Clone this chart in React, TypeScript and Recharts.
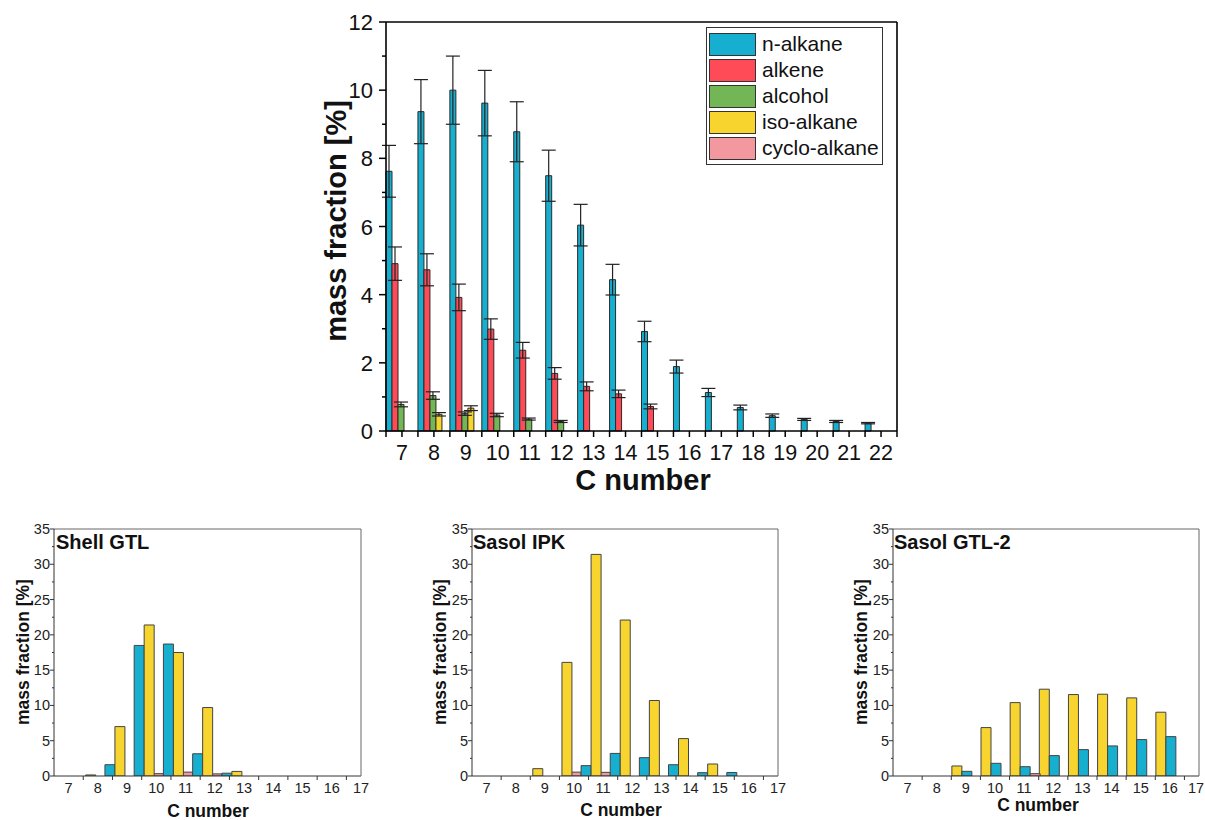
import React from 'react';
import { BarChart, Bar, XAxis, YAxis, ErrorBar, Legend } from 'recharts';

const FONT = '"Liberation Sans", Arial, Helvetica, sans-serif';

// ---------- main chart data (C7 .. C22) ----------
const carbonNumbers = [7, 8, 9, 10, 11, 12, 13, 14, 15, 16, 17, 18, 19, 20, 21, 22];
const nAlkane = [7.62, 9.37, 10.0, 9.62, 8.78, 7.49, 6.04, 4.44, 2.92, 1.89, 1.13, 0.69, 0.45, 0.34, 0.28, 0.23];
const nAlkaneErr = [0.76, 0.94, 1.0, 0.96, 0.88, 0.75, 0.61, 0.45, 0.3, 0.19, 0.12, 0.07, 0.05, 0.03, 0.03, 0.02];
const alkene = [4.91, 4.73, 3.92, 2.99, 2.37, 1.69, 1.31, 1.09, 0.72, null, null, null, null, null, null, null];
const alkeneErr = [0.49, 0.47, 0.39, 0.3, 0.23, 0.17, 0.13, 0.11, 0.07, null, null, null, null, null, null, null];
const alcohol = [0.78, 1.04, 0.51, 0.47, 0.35, 0.28, null, null, null, null, null, null, null, null, null, null];
const alcoholErr = [0.07, 0.11, 0.05, 0.05, 0.03, 0.03, null, null, null, null, null, null, null, null, null, null];
const isoAlkane = [null, 0.49, 0.67, null, null, null, null, null, null, null, null, null, null, null, null, null];
const isoAlkaneErr = [null, 0.05, 0.07, null, null, null, null, null, null, null, null, null, null, null, null, null];
const cycloAlkane = [null, null, null, null, null, null, null, null, null, null, null, null, null, null, null, null];

const legendOrder = ['n-alkane', 'alkene', 'alcohol', 'iso-alkane', 'cyclo-alkane'];
const mainYLabels = [0, 2, 4, 6, 8, 10, 12];
const mainYMinor = [1, 3, 5, 7, 9, 11];

// ---------- bottom charts data (C7 .. C16) ----------
const fuelCarbon = [7, 8, 9, 10, 11, 12, 13, 14, 15, 16];
const shellN = [0, 1.6, 18.5, 18.7, 3.15, 0.4, 0, 0, 0, 0];
const shellIso = [0.15, 7.0, 21.4, 17.5, 9.7, 0.65, 0, 0, 0, 0];
const shellCyclo = [0, 0, 0, 0.33, 0.55, 0.3, 0, 0, 0, 0];
const ipkN = [0, 0, 0, 1.47, 3.2, 2.6, 1.6, 0.47, 0.5, 0];
const ipkIso = [0, 1.04, 16.1, 31.4, 22.1, 10.7, 5.3, 1.7, 0, 0];
const ipkCyclo = [0, 0, 0, 0.55, 0.52, 0, 0, 0, 0, 0];
const gtl2N = [0, 0, 0.66, 1.8, 1.32, 2.89, 3.74, 4.26, 5.16, 5.58];
const gtl2Iso = [0, 0, 1.42, 6.86, 10.4, 12.3, 11.54, 11.59, 11.07, 9.04];
const gtl2Cyclo = [0, 0, 0, 0, 0.33, 0, 0, 0, 0, 0];

const fuelXLabels = [7, 8, 9, 10, 11, 12, 13, 14, 15, 16, 17];
const fuelXMinor = [7.5, 8.5, 9.5, 10.5, 11.5, 12.5, 13.5, 14.5, 15.5, 16.5];
const fuelYLabels = [0, 5, 10, 15, 20, 25, 30, 35];
const fuelYMinor = [2.5, 7.5, 12.5, 17.5, 22.5, 27.5, 32.5];

const COLORS = {
  n: '#17AFCF',
  alkene: '#FF4A57',
  alcohol: '#73B655',
  iso: '#F8D42E',
  cyclo: '#F4989F',
};
const OUTLINE = '#2a2a2a';

const mainData = carbonNumbers.map((c, i) => ({
  c,
  nAlkane: nAlkane[i],
  nAlkaneErr: nAlkaneErr[i],
  alkene: alkene[i],
  alkeneErr: alkeneErr[i],
  alcohol: alcohol[i],
  alcoholErr: alcoholErr[i],
  iso: isoAlkane[i],
  isoErr: isoAlkaneErr[i],
  cyclo: cycloAlkane[i],
}));

const sortNum = (a: number[]) => [...a].sort((x, y) => x - y);

// ---------- tick renderers ----------
const MainXTick = (props: any) => {
  const { x, y, payload, index, visibleTicksCount } = props;
  const half = payload && payload.offset ? payload.offset : 16;
  const last = index === visibleTicksCount - 1;
  return (
    <g>
      <line x1={x} x2={x} y1={y} y2={y + 6} stroke="#000" strokeWidth={1.5} />
      <line x1={x - half} x2={x - half} y1={y} y2={y + 6} stroke="#000" strokeWidth={1.5} />
      {last && <line x1={x + half} x2={x + half} y1={y} y2={y + 6} stroke="#000" strokeWidth={1.5} />}
      <text x={x} y={y + 29} textAnchor="middle" fontSize={21.5} fill="#111" fontFamily={FONT}>
        {payload.value}
      </text>
    </g>
  );
};

const MainYTick = (props: any) => {
  const { x, y, payload } = props;
  const major = mainYLabels.includes(payload.value);
  return (
    <g>
      <line x1={x - (major ? 7 : 4)} x2={x} y1={y} y2={y} stroke="#000" strokeWidth={1.5} />
      {major && (
        <text x={x - 13} y={y + 8} textAnchor="end" fontSize={22} fill="#111" fontFamily={FONT}>
          {payload.value}
        </text>
      )}
    </g>
  );
};

const FuelXTick = (props: any) => {
  const { x, y, payload, maxX } = props;
  const major = fuelXLabels.includes(payload.value);
  if (!major) {
    return <line x1={x} x2={x} y1={y} y2={y + 4} stroke="#333" strokeWidth={1} />;
  }
  const lx = maxX != null && x + 9 > maxX ? maxX - 9 : x;
  return (
    <text x={lx} y={y + 17} textAnchor="middle" fontSize={14.5} fill="#222" fontFamily={FONT}>
      {payload.value}
    </text>
  );
};

const FuelYTick = (props: any) => {
  const { x, y, payload } = props;
  const major = fuelYLabels.includes(payload.value);
  return (
    <g>
      <line x1={x - (major ? 4 : 2)} x2={x} y1={y} y2={y} stroke="#333" strokeWidth={1} />
      {major && (
        <text x={x - 4} y={y + 5} textAnchor="end" fontSize={14.5} fill="#222" fontFamily={FONT}>
          {payload.value}
        </text>
      )}
    </g>
  );
};

const renderLegend = (props: any) => {
  const items = [...(props.payload || [])].sort(
    (a: any, b: any) => legendOrder.indexOf(a.value) - legendOrder.indexOf(b.value)
  );
  return (
    <div
      style={{
        border: '1px solid #333',
        background: '#fff',
        padding: '3px 4px 3px 2px',
        width: 177,
        boxSizing: 'border-box',
        fontFamily: FONT,
      }}
    >
      {items.map((p: any) => (
        <div key={p.value} style={{ display: 'flex', alignItems: 'center', height: 26, whiteSpace: 'nowrap' }}>
          <div
            style={{
              width: 47,
              height: 23,
              flex: '0 0 47px',
              background: p.color,
              border: '1px solid #333',
              boxSizing: 'border-box',
            }}
          />
          <span style={{ marginLeft: 6, fontSize: 21, color: '#111', lineHeight: '26px', whiteSpace: 'nowrap' }}>
            {p.value}
          </span>
        </div>
      ))}
    </div>
  );
};

// ---------- bottom chart ----------
type SeriesKey = 'n' | 'iso' | 'cyclo';
const seriesName: Record<SeriesKey, string> = { n: 'n-alkane', iso: 'iso-alkane', cyclo: 'cyclo-alkane' };

function FuelChart(props: {
  n: number[];
  iso: number[];
  cyclo: number[];
  order: SeriesKey[];
  shift: number;
  left: number;
  width: number;
  margin: { top: number; right: number; bottom: number; left: number };
}) {
  const { n, iso, cyclo, order, shift, left, width, margin } = props;
  const data = fuelCarbon.map((c, i) => ({ c, n: n[i], iso: iso[i], cyclo: cyclo[i] }));
  const axisStroke = { stroke: '#333', strokeWidth: 1 };
  const frameStroke = { stroke: '#666', strokeWidth: 1 };
  return (
    <div style={{ position: 'absolute', left, top: 500 }}>
      <BarChart width={width} height={320} data={data} margin={margin} barCategoryGap={0} barGap={0}>
        <XAxis
          type="number"
          dataKey={(d: any) => d.c + shift}
          domain={[6.5, 17]}
          ticks={sortNum([...fuelXLabels, ...fuelXMinor])}
          interval={0}
          height={1}
          tickSize={0}
          tickMargin={0}
          tickLine={false}
          axisLine={axisStroke}
          tick={(p: any) => <FuelXTick {...p} maxX={width} />}
          allowDataOverflow
        />
        <XAxis
          xAxisId="top"
          orientation="top"
          type="number"
          dataKey="c"
          domain={[6.5, 17]}
          height={1}
          tick={false}
          tickLine={false}
          axisLine={frameStroke}
          allowDataOverflow
        />
        <YAxis
          type="number"
          domain={[0, 35]}
          ticks={sortNum([...fuelYLabels, ...fuelYMinor])}
          interval={0}
          width={1}
          tickSize={0}
          tickMargin={0}
          tickLine={false}
          axisLine={axisStroke}
          tick={(p: any) => <FuelYTick {...p} />}
          allowDataOverflow
        />
        <YAxis
          yAxisId="right"
          orientation="right"
          type="number"
          domain={[0, 35]}
          width={1}
          tick={false}
          tickLine={false}
          axisLine={frameStroke}
        />
        {order.map((k) => (
          <Bar
            key={k}
            dataKey={k}
            name={seriesName[k]}
            fill={COLORS[k]}
            stroke="#444"
            strokeWidth={1}
            isAnimationActive={false}
          />
        ))}
      </BarChart>
    </div>
  );
}

export default function App() {
  const axisStroke = { stroke: '#000', strokeWidth: 1.6 };
  return (
    <div
      style={{
        position: 'absolute',
        left: 0,
        top: 0,
        width: 1205,
        height: 820,
        overflow: 'hidden',
        background: '#fff',
        fontFamily: FONT,
      }}
    >
      <div style={{ position: 'absolute', left: 0, top: 0 }}>
        <BarChart
          width={1205}
          height={500}
          data={mainData}
          margin={{ top: 21, right: 307, bottom: 68, left: 385 }}
          barCategoryGap={0}
          barGap={0}
        >
          <XAxis
            dataKey="c"
            type="category"
            height={1}
            interval={0}
            tickSize={0}
            tickMargin={0}
            tickLine={false}
            axisLine={axisStroke}
            tick={(p: any) => <MainXTick {...p} />}
          />
          <XAxis
            xAxisId="top"
            orientation="top"
            dataKey="c"
            type="category"
            height={1}
            tick={false}
            tickLine={false}
            axisLine={axisStroke}
          />
          <YAxis
            type="number"
            domain={[0, 12]}
            ticks={sortNum([...mainYLabels, ...mainYMinor])}
            interval={0}
            width={1}
            tickSize={0}
            tickMargin={0}
            tickLine={false}
            axisLine={axisStroke}
            tick={(p: any) => <MainYTick {...p} />}
          />
          <YAxis
            yAxisId="right"
            orientation="right"
            type="number"
            domain={[0, 12]}
            width={1}
            tick={false}
            tickLine={false}
            axisLine={axisStroke}
          />
          <Legend
            layout="vertical"
            align="center"
            verticalAlign="middle"
            wrapperStyle={{ left: 706, top: 27, width: 177, height: 'auto' }}
            content={renderLegend}
          />
          <Bar dataKey="nAlkane" name="n-alkane" fill={COLORS.n} stroke={OUTLINE} strokeWidth={1} isAnimationActive={false}>
            <ErrorBar dataKey="nAlkaneErr" width={7} stroke="#222" strokeWidth={1.2} />
          </Bar>
          <Bar dataKey="alkene" name="alkene" fill={COLORS.alkene} stroke={OUTLINE} strokeWidth={1} isAnimationActive={false}>
            <ErrorBar dataKey="alkeneErr" width={7} stroke="#222" strokeWidth={1.2} />
          </Bar>
          <Bar dataKey="alcohol" name="alcohol" fill={COLORS.alcohol} stroke={OUTLINE} strokeWidth={1} isAnimationActive={false}>
            <ErrorBar dataKey="alcoholErr" width={7} stroke="#222" strokeWidth={1.2} />
          </Bar>
          <Bar dataKey="iso" name="iso-alkane" fill={COLORS.iso} stroke={OUTLINE} strokeWidth={1} isAnimationActive={false}>
            <ErrorBar dataKey="isoErr" width={7} stroke="#222" strokeWidth={1.2} />
          </Bar>
          <Bar dataKey="cyclo" name="cyclo-alkane" fill={COLORS.cyclo} stroke={OUTLINE} strokeWidth={1} isAnimationActive={false} />
        </BarChart>
      </div>

      <FuelChart
        n={shellN}
        iso={shellIso}
        cyclo={shellCyclo}
        order={['cyclo', 'n', 'iso']}
        shift={0.4}
        left={0}
        width={400}
        margin={{ top: 28, right: 38, bottom: 43, left: 53 }}
      />
      <FuelChart
        n={ipkN}
        iso={ipkIso}
        cyclo={ipkCyclo}
        order={['cyclo', 'n', 'iso']}
        shift={0.4}
        left={410}
        width={400}
        margin={{ top: 28, right: 31, bottom: 43, left: 61 }}
      />
      <FuelChart
        n={gtl2N}
        iso={gtl2Iso}
        cyclo={gtl2Cyclo}
        order={['iso', 'n', 'cyclo']}
        shift={0.02}
        left={820}
        width={385}
        margin={{ top: 28, right: 5, bottom: 43, left: 72 }}
      />

      <svg
        width={1205}
        height={820}
        style={{ position: 'absolute', left: 0, top: 0, pointerEvents: 'none' }}
        fontFamily={FONT}
      >
        <text transform="translate(346,221) rotate(-90)" textAnchor="middle" fontSize={29} fontWeight="bold" fill="#111">
          mass fraction [%]
        </text>
        <text x={643} y={490} textAnchor="middle" fontSize={29} fontWeight="bold" fill="#111">
          C number
        </text>

        <text x={56} y={549} fontSize={20} fontWeight="bold" fill="#111">Shell GTL</text>
        <text x={473} y={549} fontSize={20} fontWeight="bold" fill="#111">Sasol IPK</text>
        <text x={894} y={549} fontSize={20} fontWeight="bold" fill="#111">Sasol GTL-2</text>

        <text transform="translate(29,652) rotate(-90)" textAnchor="middle" fontSize={17.5} fontWeight="bold" fill="#111">
          mass fraction [%]
        </text>
        <text transform="translate(446,652) rotate(-90)" textAnchor="middle" fontSize={17.5} fontWeight="bold" fill="#111">
          mass fraction [%]
        </text>
        <text transform="translate(867,652) rotate(-90)" textAnchor="middle" fontSize={17.5} fontWeight="bold" fill="#111">
          mass fraction [%]
        </text>

        <text x={208} y={817} textAnchor="middle" fontSize={17.5} fontWeight="bold" fill="#111">C number</text>
        <text x={621} y={816} textAnchor="middle" fontSize={17.5} fontWeight="bold" fill="#111">C number</text>
        <text x={1038} y={811} textAnchor="middle" fontSize={17.5} fontWeight="bold" fill="#111">C number</text>
      </svg>
    </div>
  );
}
